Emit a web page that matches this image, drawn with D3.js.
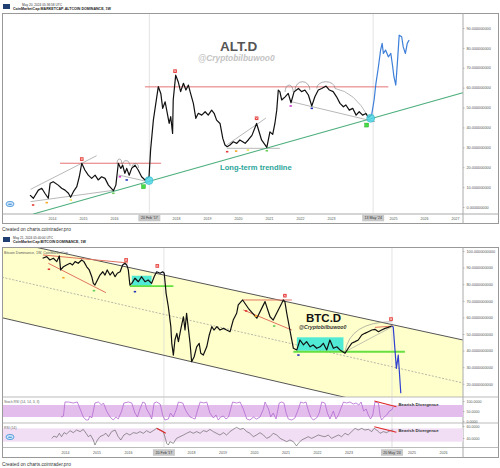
<!DOCTYPE html>
<html>
<head>
<meta charset="utf-8">
<script src="https://cdn.jsdelivr.net/npm/d3@7"></script>
<style>
  body { margin: 0; background: #fff; }
  svg { display: block; font-family: "Liberation Sans", Arial, sans-serif; }
</style>
</head>
<body>
<svg id="chart" width="500" height="468"></svg>
<script>
// ---------- data: [decimal year, value %] ----------
const altLine = [
  [2013.29,6.0],[2013.40,4.4],[2013.56,8.5],[2013.67,9.4],[2013.77,6.9],[2013.88,4.4],[2013.94,11.9],
  [2014.04,12.7],[2014.20,11.0],[2014.31,9.4],[2014.42,8.5],[2014.53,6.9],[2014.60,4.9],[2014.69,7.7],
  [2014.80,10.2],[2014.88,15.2],[2014.96,22.0],[2015.06,18.6],[2015.17,16.0],[2015.28,14.4],[2015.39,16.0],
  [2015.49,13.6],[2015.60,15.2],[2015.71,14.4],[2015.82,11.0],[2015.98,8.2],[2016.06,11.0],[2016.14,22.0],
  [2016.22,19.4],[2016.28,21.0],[2016.35,16.9],[2016.41,19.4],[2016.49,16.0],[2016.57,19.4],[2016.68,21.0],
  [2016.78,18.6],[2016.89,15.2],[2017.00,13.6],[2017.07,14.4],[2017.13,15.2],[2017.18,28.6],[2017.27,43.7],
  [2017.38,55.4],[2017.43,60.5],[2017.51,57.1],[2017.57,49.6],[2017.65,52.9],[2017.70,48.7],[2017.78,42.0],
  [2017.83,45.4],[2017.89,37.0],[2017.91,53.8],[2017.99,66.3],[2018.07,63.0],[2018.15,58.0],[2018.24,62.2],
  [2018.32,58.8],[2018.40,61.3],[2018.47,57.1],[2018.56,52.1],[2018.64,44.6],[2018.72,47.1],[2018.83,46.2],
  [2018.94,47.9],[2019.04,46.2],[2019.15,48.7],[2019.23,47.1],[2019.31,43.7],[2019.42,42.0],[2019.51,34.5],
  [2019.58,31.2],[2019.65,30.3],[2019.74,31.2],[2019.85,32.8],[2019.96,32.0],[2020.06,33.7],[2020.23,32.0],
  [2020.33,33.7],[2020.45,36.0],[2020.60,42.0],[2020.76,33.7],[2020.93,30.0],[2021.03,37.8],[2021.12,36.5],
  [2021.19,42.0],[2021.25,48.7],[2021.30,58.8],[2021.35,58.0],[2021.41,53.8],[2021.52,55.4],[2021.62,57.1],
  [2021.71,52.4],[2021.81,58.0],[2021.95,59.6],[2022.05,58.0],[2022.16,58.8],[2022.27,56.3],[2022.38,50.8],
  [2022.48,55.4],[2022.59,58.8],[2022.70,59.6],[2022.84,60.8],[2022.95,58.8],[2023.07,58.0],[2023.18,55.4],
  [2023.29,52.1],[2023.40,50.4],[2023.48,51.3],[2023.59,48.7],[2023.70,49.6],[2023.81,46.2],[2023.91,47.9],
  [2024.02,46.2],[2024.13,47.0],[2024.20,45.0],[2024.31,46.2]
];
const altProjection = [
  [2024.31,46.2],[2024.39,53.8],[2024.45,62.2],[2024.53,70.5],[2024.60,78.9],[2024.65,82.3],[2024.69,77.2],
  [2024.76,78.9],[2024.85,75.5],[2024.93,77.2],[2024.99,70.5],[2025.03,65.5],[2025.09,61.3],[2025.14,72.2],
  [2025.20,86.4],[2025.28,85.6],[2025.33,80.5],[2025.40,77.2],[2025.46,82.3],[2025.52,83.9]
];
const btcLine = [
  [2013.29,95.6],[2013.42,96.6],[2013.52,94.6],[2013.63,95.6],[2013.74,93.6],[2013.82,97.0],[2013.86,88.6],
  [2013.95,90.5],[2014.05,91.6],[2014.16,92.6],[2014.24,91.6],[2014.32,93.6],[2014.42,92.6],[2014.53,94.6],
  [2014.60,93.6],[2014.69,90.5],[2014.77,88.6],[2014.85,84.5],[2014.90,80.5],[2014.95,79.5],[2015.03,82.5],
  [2015.11,85.5],[2015.20,87.5],[2015.27,85.5],[2015.34,88.6],[2015.43,85.5],[2015.51,87.5],[2015.59,84.5],
  [2015.66,86.6],[2015.75,87.5],[2015.83,91.6],[2015.90,92.6],[2015.96,91.6],[2016.01,88.6],[2016.06,79.5],
  [2016.12,80.5],[2016.22,83.6],[2016.33,81.5],[2016.43,84.5],[2016.54,81.5],[2016.64,82.5],[2016.75,80.5],
  [2016.83,84.5],[2016.91,87.5],[2017.02,86.6],[2017.10,87.5],[2017.15,86.6],[2017.21,74.5],[2017.28,66.4],
  [2017.36,54.4],[2017.39,44.4],[2017.44,37.3],[2017.49,46.4],[2017.55,50.4],[2017.60,45.4],[2017.67,52.4],
  [2017.76,60.4],[2017.81,52.4],[2017.86,62.5],[2017.91,54.4],[2017.97,44.4],[2018.02,33.3],[2018.10,36.3],
  [2018.18,42.3],[2018.26,44.4],[2018.31,38.4],[2018.39,37.3],[2018.50,42.3],[2018.58,49.4],[2018.66,54.4],
  [2018.73,52.4],[2018.82,54.4],[2018.92,52.4],[2019.03,53.4],[2019.13,52.4],[2019.24,51.4],[2019.34,58.4],
  [2019.45,62.5],[2019.50,67.5],[2019.64,70.5],[2019.71,68.5],[2019.82,65.5],[2020.09,59.5],[2020.35,69.5],
  [2020.51,60.4],[2020.61,58.4],[2020.88,68.5],[2020.93,70.5],[2020.98,69.5],[2021.04,62.5],[2021.14,52.4],
  [2021.25,41.4],[2021.36,40.4],[2021.46,46.4],[2021.57,43.4],[2021.67,45.4],[2021.78,42.3],[2021.88,43.4],
  [2021.99,41.4],[2022.10,42.3],[2022.20,44.4],[2022.31,40.4],[2022.41,46.4],[2022.52,41.4],[2022.63,42.3],
  [2022.73,40.4],[2022.89,38.4],[2022.99,41.4],[2023.10,44.4],[2023.21,45.4],[2023.31,46.4],[2023.42,49.4],
  [2023.52,50.4],[2023.63,51.4],[2023.74,52.4],[2023.84,52.8],[2023.95,51.4],[2024.05,52.4],[2024.16,53.4],
  [2024.26,54.0],[2024.37,54.8]
];
const btcProjection = [[2024.37,54.8],[2024.42,54.2],[2024.52,29.3],[2024.58,37.3],[2024.66,14.3]];

const stochRsi = [
  [2013.87,20],[2013.95,25],[2014.00,95],[2014.11,95],[2014.26,90],[2014.39,95],[2014.48,60],[2014.58,20],
  [2014.67,5],[2014.74,5],[2014.79,25],[2014.85,15],[2014.90,50],[2014.95,90],[2015.06,95],[2015.16,80],
  [2015.22,90],[2015.32,50],[2015.43,20],[2015.53,5],[2015.62,20],[2015.69,10],[2015.80,50],[2015.87,90],
  [2016.01,95],[2016.12,90],[2016.22,40],[2016.30,20],[2016.38,60],[2016.47,95],[2016.54,90],[2016.59,60],
  [2016.70,30],[2016.75,10],[2016.83,90],[2016.91,95],[2017.02,85],[2017.10,30],[2017.17,5],[2017.28,10],
  [2017.35,40],[2017.44,20],[2017.54,60],[2017.60,95],[2017.74,90],[2017.81,60],[2017.88,40],[2017.97,20],
  [2018.05,15],[2018.13,10],[2018.21,55],[2018.29,95],[2018.41,90],[2018.50,95],[2018.60,40],[2018.71,15],
  [2018.79,30],[2018.87,5],[2018.94,20],[2019.03,25],[2019.11,10],[2019.19,20],[2019.26,60],[2019.32,95],
  [2019.45,90],[2019.56,95],[2019.66,60],[2019.77,10],[2019.87,5],[2019.98,20],[2020.08,10],[2020.19,20],
  [2020.30,60],[2020.35,95],[2020.46,60],[2020.53,20],[2020.61,40],[2020.70,10],[2020.80,90],[2020.88,95],
  [2020.95,90],[2021.02,40],[2021.09,10],[2021.20,5],[2021.30,15],[2021.41,60],[2021.48,95],[2021.57,90],
  [2021.65,95],[2021.73,50],[2021.80,20],[2021.88,5],[2021.99,15],[2022.07,40],[2022.15,95],[2022.25,90],
  [2022.33,40],[2022.41,10],[2022.52,50],[2022.60,10],[2022.68,30],[2022.75,60],[2022.84,95],[2022.94,90],
  [2023.05,95],[2023.15,85],[2023.24,90],[2023.33,80],[2023.40,95],[2023.48,50],[2023.56,60],[2023.63,30],
  [2023.70,10],[2023.77,30],[2023.84,95],[2023.95,90],[2024.00,30],[2024.05,5],[2024.13,20],[2024.21,30],
  [2024.30,50],[2024.37,55],[2024.42,70]
];
const rsi = [
  [2013.58,39.4],[2013.65,43.3],[2013.74,41.1],[2013.82,47.8],[2013.89,42.2],[2013.97,48.9],[2014.05,46.7],
  [2014.16,52.2],[2014.26,48.9],[2014.37,53.3],[2014.48,50.6],[2014.58,54.4],[2014.67,47.8],[2014.74,42.2],
  [2014.81,45.0],[2014.90,36.7],[2014.95,28.3],[2015.03,36.7],[2015.11,42.2],[2015.22,45.0],[2015.30,47.8],
  [2015.38,42.2],[2015.48,50.6],[2015.59,53.3],[2015.69,42.2],[2015.77,36.7],[2015.87,45.0],[2015.96,47.8],
  [2016.06,45.0],[2016.17,48.9],[2016.28,47.8],[2016.38,50.6],[2016.49,47.8],[2016.59,52.2],[2016.70,48.9],
  [2016.80,52.2],[2016.91,56.1],[2017.02,53.3],[2017.12,50.6],[2017.17,42.2],[2017.23,31.1],[2017.28,28.3],
  [2017.33,33.9],[2017.44,31.1],[2017.54,39.4],[2017.65,42.2],[2017.76,45.0],[2017.86,47.8],[2017.97,50.6],
  [2018.07,47.8],[2018.18,50.6],[2018.29,47.8],[2018.39,52.2],[2018.50,50.6],[2018.60,54.4],[2018.71,50.6],
  [2018.81,47.8],[2018.92,45.0],[2019.03,48.9],[2019.13,45.0],[2019.24,50.6],[2019.34,54.4],[2019.45,57.8],
  [2019.56,54.4],[2019.66,56.1],[2019.77,50.6],[2019.87,47.8],[2019.98,42.2],[2020.08,45.0],[2020.19,48.9],
  [2020.30,45.0],[2020.40,39.4],[2020.51,42.2],[2020.61,47.8],[2020.72,45.0],[2020.83,39.4],[2020.93,36.7],
  [2021.04,33.9],[2021.14,36.7],[2021.25,33.9],[2021.35,26.7],[2021.41,31.1],[2021.51,36.7],[2021.62,39.4],
  [2021.72,42.2],[2021.83,39.4],[2021.94,42.2],[2022.04,45.0],[2022.15,43.3],[2022.25,42.2],[2022.36,45.0],
  [2022.46,39.4],[2022.57,42.2],[2022.68,45.0],[2022.78,42.2],[2022.89,47.8],[2022.99,45.0],[2023.10,50.6],
  [2023.21,56.1],[2023.31,53.3],[2023.42,56.1],[2023.52,53.3],[2023.63,54.4],[2023.74,50.6],[2023.81,56.1],
  [2023.90,53.3],[2024.00,47.8],[2024.11,50.6],[2024.21,48.9],[2024.32,52.2],[2024.42,53.3]
];

// tick labels
const topYears = [2014, 2015, 2016, 2018, 2019, 2020, 2021, 2022, 2023, 2025, 2026, 2027];
const botYears = [2014, 2015, 2016, 2018, 2019, 2020, 2021, 2022, 2023, 2025, 2026];
const topValueTicks = [0, 10, 20, 30, 40, 50, 60, 70, 80, 90];
const botValueTicks = [20, 30, 40, 50, 60, 70, 80, 90, 100];
const stochTicks = [0, 50, 100];
const rsiTicks = [40, 60];
const topDateMarks = [[2017.14, "20 Feb '17"], [2024.36, "13 May '24"]];
const botDateMarks = [[2017.14, "20 Feb '17"], [2024.38, "20 May '24"]];

// drawings on the ALT.D chart
const altResistance = [[[2014.26, 22], [2017.52, 22]], [[2017.0, 60.4], [2024.85, 60.4]]];
const altTrend = [[2013.4, -3.5], [2027.25, 57.4]];
const altGreyLines = [
  [[2013.31, 8.9], [2015.44, 25.8]], [[2013.31, 2.7], [2016.03, 8.5]], [[2016.14, 16.1], [2017.11, 12.7]],
  [[2019.64, 31.2], [2020.90, 44.7]], [[2019.64, 29.5], [2021.35, 29.5]], [[2021.73, 52.9], [2024.42, 42.9]]
];
const altArcs = [ // [start, end, base, top]
  [2016.10, 2016.25, 21.6, 24.1], [2016.26, 2016.52, 20.6, 23.3], [2016.58, 2016.79, 19.6, 21.9],
  [2021.52, 2021.78, 57.9, 61.3], [2021.84, 2022.32, 58.8, 63.0], [2022.54, 2023.13, 59.6, 63.0]
];
const altCurve = [[2023.13, 59.6], [2023.77, 57.8], [2024.20, 45.4]];
const altDots = [
  [2013.39, 1.0, "#e53935"], [2013.83, 2.2, "#f5a623"], [2014.61, 3.5, "#f3e25a"], [2015.98, 6.9, "#66cc55"],
  [2016.19, 15.2, "#d040d0"], [2016.41, 13.6, "#2233bb"], [2019.65, 27.8, "#e53935"], [2019.94, 28.1, "#f5a623"],
  [2020.32, 28.6, "#f3e25a"], [2020.93, 28.3, "#66cc55"], [2021.70, 50.8, "#d040d0"], [2022.38, 49.6, "#2233bb"]
];
const altCrosses = [[2014.96, 24.1], [2017.97, 68.3], [2020.60, 44.6]];
const altSquares = [[2016.95, 10.2], [2024.15, 41.2]];
const altTouches = [[2017.13, 13.3], [2024.28, 44.6]];

// drawings on the BTC.D chart
const channelUpper = [[2012.0, 106.7], [2026.63, 46.4]];
const channelLower = [[2012.0, 59.8], [2026.63, -4.6]];
const channelMid = [[2012.0, 84.2], [2026.63, 20.5]];
const btcRedLines = [
  [[2013.30, 97.6], [2016.0, 92.8]], [[2013.47, 92.6], [2015.30, 74.9]],
  [[2019.66, 70.5], [2021.20, 70.5]], [[2019.66, 64.5], [2021.20, 52.4]], [[2023.84, 54.0], [2024.42, 54.8]]
];
const btcBoxes = [[2016.12, 2016.75, 78.9, 85.1], [2021.36, 2022.84, 39.9, 48.0]];
const btcSupport = [[[2016.06, 78.9], [2017.44, 78.9]], [[2021.25, 39.3], [2024.79, 39.3]]];
const btcGreyLine = [[2022.89, 39.3], [2024.37, 54.2]];
const btcCurve = [[2022.89, 39.3], [2023.05, 57.2], [2024.37, 57.4]];
const btcDots = [
  [2013.49, 89.0, "#e53935"], [2013.95, 83.9, "#f5a623"], [2014.92, 76.1, "#66cc55"], [2016.22, 75.5, "#2233bb"],
  [2019.75, 63.9, "#e53935"], [2020.06, 60.8, "#f5a623"], [2020.64, 54.8, "#66cc55"], [2021.41, 37.3, "#2233bb"]
];
const btcCrosses = [[2015.94, 94.6], [2016.93, 91.0], [2020.98, 73.1], [2024.35, 59.0]];
const stochDivergence = [[2023.82, 100], [2024.52, 71]];
const rsiDivergences = [[[2023.82, 58.8], [2024.52, 49.5]], [[2016.91, 56.1], [2017.20, 47.8]]];

// ---------- scales ----------
const svg = d3.select("#chart");
const xTop = d3.scaleLinear().domain([2014, 2025]).range([52, 393]);
const yTop = d3.scaleLinear().domain([0, 90]).range([207, 28]);
const xBot = d3.scaleLinear().domain([2014, 2026]).range([65, 443]);
const yBot = d3.scaleLinear().domain([20, 100]).range([383.8, 251]);
const yStoch = d3.scaleLinear().domain([0, 100]).range([421, 401]);
const yRsi = d3.scaleLinear().domain([40, 60]).range([438, 426]);

const lineFor = (x, y) => d3.line().x(d => x(d[0])).y(d => y(d[1]));

function clip(id, x, y, w, h) {
  svg.append("clipPath").attr("id", id).append("rect")
    .attr("x", x).attr("y", y).attr("width", w).attr("height", h);
  return svg.append("g").attr("clip-path", `url(#${id})`);
}

function segs(g, x, y, list, stroke, width, dash) {
  g.selectAll(null).data(list).enter().append("path")
    .attr("d", d => lineFor(x, y)(d))
    .attr("fill", "none").attr("stroke", stroke).attr("stroke-width", width)
    .attr("stroke-dasharray", dash || null);
}

function crosses(g, x, y, list) {
  const c = g.selectAll(null).data(list).enter().append("g")
    .attr("transform", d => `translate(${x(d[0])},${y(d[1])})`);
  c.append("rect").attr("x", -1.8).attr("y", -1.8).attr("width", 3.6).attr("height", 3.6).attr("fill", "#e53935");
  c.append("path").attr("d", "M-1,-1L1,1M1,-1L-1,1").attr("stroke", "#fff").attr("stroke-width", 0.6);
}

function dots(g, x, y, list) {
  g.selectAll(null).data(list).enter().append("rect")
    .attr("x", d => x(d[0]) - 1.2).attr("y", d => y(d[1]) - 0.8)
    .attr("width", 2.4).attr("height", 1.6).attr("fill", d => d[2]);
}

function header(y, dateX, date, title) {
  svg.append("rect").attr("x", 3).attr("y", y + 1).attr("width", 7).attr("height", 5).attr("fill", "#1f3f73");
  svg.append("text").attr("x", dateX).attr("y", y + 2.5).attr("font-size", 3.2).attr("fill", "#333").text(date);
  svg.append("text").attr("x", 13).attr("y", y + 7).attr("font-size", 3.6).attr("font-weight", "bold")
    .attr("fill", "#222").text(title);
}

function cloud(x, y) {
  svg.append("ellipse").attr("cx", x).attr("cy", y).attr("rx", 4).attr("ry", 2.6)
    .attr("fill", "#cfe6fa").attr("stroke", "#3d8fd6").attr("stroke-width", 0.8);
  svg.append("path").attr("d", `M${x - 2},${y + 0.8}q1,-2.2 2.2,-0.8q1,-1.2 1.8,0.8z`).attr("fill", "#3d8fd6");
}

function styleAxis(g, size) {
  g.select(".domain").remove();
  g.selectAll(".tick line").attr("stroke", "#888").attr("stroke-width", 0.5);
  g.selectAll("text").attr("font-size", size).attr("fill", "#555")
    .attr("font-family", "'Liberation Sans', Arial, sans-serif");
}

function dateMarks(x, y, list) {
  const m = svg.selectAll(null).data(list).enter().append("g");
  m.append("rect").attr("x", d => x(d[0]) - 11).attr("y", y - 3.3).attr("width", 22).attr("height", 6.6)
    .attr("fill", "#c9c9c9");
  m.append("text").attr("x", d => x(d[0])).attr("y", y + 1.3).attr("text-anchor", "middle")
    .attr("font-size", 3.6).attr("fill", "#333").text(d => d[1]);
}

// ================= ALT.D chart =================
header(3, 22, "May 20, 2024 05:36:58 UTC", "CoinMarketCap:MARKETCAP-ALTCOIN DOMINANCE, 1W");
svg.append("rect").attr("x", 2.5).attr("y", 13.5).attr("width", 496).attr("height", 210)
  .attr("fill", "#fff").attr("stroke", "#999").attr("stroke-width", 1);
svg.append("line").attr("x1", 463).attr("x2", 463).attr("y1", 13.5).attr("y2", 223.5).attr("stroke", "#aaa");
svg.append("line").attr("x1", 2.5).attr("x2", 498.5).attr("y1", 214).attr("y2", 214).attr("stroke", "#aaa");

const gTop = clip("clipTop", 3, 14, 460, 200);
gTop.selectAll(null).data(topDateMarks).enter().append("line")
  .attr("x1", d => xTop(d[0])).attr("x2", d => xTop(d[0])).attr("y1", 14).attr("y2", 214)
  .attr("stroke", "#d8d8d8").attr("stroke-width", 0.7);

segs(gTop, xTop, yTop, altResistance, "#e57373", 1);
segs(gTop, xTop, yTop, altGreyLines, "#9a9a9a", 0.7);
segs(gTop, xTop, yTop, [altTrend], "#4cae7c", 1.1);
gTop.selectAll(null).data(altArcs).enter().append("path")
  .attr("d", d => {
    const x0 = xTop(d[0]), x1 = xTop(d[1]), yb = yTop(d[2]), yt = yTop(d[3]);
    return `M${x0},${yb}A${(x1 - x0) / 2},${yb - yt} 0 0 1 ${x1},${yb}`;
  })
  .attr("fill", "none").attr("stroke", "#777").attr("stroke-width", 0.6);
gTop.append("path")
  .attr("d", `M${xTop(altCurve[0][0])},${yTop(altCurve[0][1])}Q${xTop(altCurve[1][0])},${yTop(altCurve[1][1])} ${xTop(altCurve[2][0])},${yTop(altCurve[2][1])}`)
  .attr("fill", "none").attr("stroke", "#888").attr("stroke-width", 0.6);

gTop.append("path").attr("d", lineFor(xTop, yTop)(altLine))
  .attr("fill", "none").attr("stroke", "#111").attr("stroke-width", 1.2).attr("stroke-linejoin", "round");
gTop.append("path").attr("d", lineFor(xTop, yTop)(altProjection))
  .attr("fill", "none").attr("stroke", "#3d7fd9").attr("stroke-width", 1.2).attr("stroke-linejoin", "round");

dots(gTop, xTop, yTop, altDots);
crosses(gTop, xTop, yTop, altCrosses);
gTop.selectAll(null).data(altSquares).enter().append("rect")
  .attr("x", d => xTop(d[0]) - 2).attr("y", d => yTop(d[1]) - 2).attr("width", 4).attr("height", 4)
  .attr("fill", "#44dd44").attr("stroke", "#2a9d2a").attr("stroke-width", 0.4);
gTop.selectAll(null).data(altTouches).enter().append("circle")
  .attr("cx", d => xTop(d[0])).attr("cy", d => yTop(d[1])).attr("r", 4)
  .attr("fill", "#4fd6e6").attr("fill-opacity", 0.85).attr("stroke", "#2aaac0").attr("stroke-width", 0.5);

svg.append("text").attr("x", 220).attr("y", 51).attr("font-size", 13.5).attr("font-weight", "bold")
  .attr("fill", "#555").text("ALT.D");
svg.append("text").attr("x", 198).attr("y", 61).attr("font-size", 8.4).attr("font-weight", "bold")
  .attr("font-style", "italic").attr("fill", "#c4c4c4").text("@Cryptobilbuwoo0");
svg.append("text").attr("x", 220).attr("y", 169.5).attr("font-size", 7.6).attr("font-weight", "bold")
  .attr("fill", "#2aa59a").text("Long-term trendline");
cloud(10, 204);

svg.append("g").attr("transform", "translate(0,219)")
  .call(d3.axisBottom(xTop).tickValues(topYears).tickFormat(d3.format("d")).tickSize(0).tickPadding(0))
  .call(g => styleAxis(g, 3.6))
  .selectAll("text").attr("y", 0).attr("dy", "0.35em");
svg.append("g").attr("transform", "translate(463,0)")
  .call(d3.axisRight(yTop).tickValues(topValueTicks).tickFormat(d => d.toFixed(9)).tickSize(1.5).tickPadding(2))
  .call(g => styleAxis(g, 3.8));
dateMarks(xTop, 218, topDateMarks);
svg.append("text").attr("x", 2).attr("y", 230.5).attr("font-size", 4.8).attr("fill", "#333")
  .text("Created on charts.cointrader.pro");

// ================= BTC.D chart =================
header(236, 13, "May 21, 2024 05:40:00 UTC", "CoinMarketCap:BITCOIN DOMINANCE, 1W");
svg.append("rect").attr("x", 2.5).attr("y", 247.5).attr("width", 496).attr("height", 210)
  .attr("fill", "#fff").attr("stroke", "#999").attr("stroke-width", 1);

const gBot = clip("clipBot", 3, 248, 460, 149);
const band = channelUpper.concat(channelLower.slice().reverse());
gBot.append("path").attr("d", lineFor(xBot, yBot)(band) + "Z").attr("fill", "#ffffcc");
gBot.selectAll(null).data(botDateMarks).enter().append("line")
  .attr("x1", d => xBot(d[0])).attr("x2", d => xBot(d[0])).attr("y1", 248).attr("y2", 448)
  .attr("stroke", "#d8d8d8").attr("stroke-width", 0.7);
segs(gBot, xBot, yBot, [channelUpper, channelLower], "#555", 1);
segs(gBot, xBot, yBot, [channelMid], "#999", 0.7, "2,1.5");

gBot.selectAll(null).data(btcBoxes).enter().append("rect")
  .attr("x", d => xBot(d[0])).attr("width", d => xBot(d[1]) - xBot(d[0]))
  .attr("y", d => yBot(d[3])).attr("height", d => yBot(d[2]) - yBot(d[3]))
  .attr("fill", "#33e6d6").attr("fill-opacity", 0.85);
segs(gBot, xBot, yBot, btcSupport, "#66e040", 1.8);
segs(gBot, xBot, yBot, btcRedLines, "#e2735f", 1);
segs(gBot, xBot, yBot, [btcGreyLine], "#999", 0.6);
gBot.append("path")
  .attr("d", `M${xBot(btcCurve[0][0])},${yBot(btcCurve[0][1])}Q${xBot(btcCurve[1][0])},${yBot(btcCurve[1][1])} ${xBot(btcCurve[2][0])},${yBot(btcCurve[2][1])}`)
  .attr("fill", "none").attr("stroke", "#888").attr("stroke-width", 0.6);

gBot.append("path").attr("d", lineFor(xBot, yBot)(btcLine))
  .attr("fill", "none").attr("stroke", "#111").attr("stroke-width", 1.2).attr("stroke-linejoin", "round");
gBot.append("path").attr("d", lineFor(xBot, yBot)(btcProjection))
  .attr("fill", "none").attr("stroke", "#2f3fcf").attr("stroke-width", 1.2).attr("stroke-linejoin", "round");
dots(gBot, xBot, yBot, btcDots);
crosses(gBot, xBot, yBot, btcCrosses);

svg.append("text").attr("x", 4).attr("y", 253.5).attr("font-size", 3.6).attr("fill", "#555")
  .text("Bitcoin Dominance, 1W, CoinMarketCap");
svg.append("text").attr("x", 306).attr("y", 321.5).attr("font-size", 11.5).attr("font-weight", "bold")
  .attr("fill", "#111").text("BTC.D");
svg.append("text").attr("x", 299).attr("y", 329).attr("font-size", 5.2).attr("font-weight", "bold")
  .attr("font-style", "italic").attr("fill", "#333").text("@Cryptobilbuwoo0");

// panels
[397, 423, 447.5].forEach(y => svg.append("line").attr("x1", 2.5).attr("x2", 498.5)
  .attr("y1", y).attr("y2", y).attr("stroke", "#aaa").attr("stroke-width", 0.8));
svg.append("line").attr("x1", 463).attr("x2", 463).attr("y1", 247.5).attr("y2", 457.5).attr("stroke", "#aaa");

const gStoch = clip("clipStoch", 3, 397.5, 460, 25.5);
gStoch.append("rect").attr("x", 3).attr("width", 460).attr("y", yStoch(80)).attr("height", yStoch(20) - yStoch(80))
  .attr("fill", "#e3bdec");
gStoch.selectAll(null).data(botDateMarks).enter().append("line")
  .attr("x1", d => xBot(d[0])).attr("x2", d => xBot(d[0])).attr("y1", 397).attr("y2", 423)
  .attr("stroke", "#d0d0d0").attr("stroke-width", 0.7);
gStoch.append("path").attr("d", lineFor(xBot, yStoch)(stochRsi))
  .attr("fill", "none").attr("stroke", "#b36ad0").attr("stroke-width", 0.8);
segs(gStoch, xBot, yStoch, [stochDivergence], "#e02828", 1.1);

const gRsi = clip("clipRsi", 3, 423.5, 460, 24);
gRsi.append("rect").attr("x", 3).attr("width", 460).attr("y", yRsi(56)).attr("height", yRsi(34) - yRsi(56))
  .attr("fill", "#f1ddf4");
gRsi.selectAll(null).data(botDateMarks).enter().append("line")
  .attr("x1", d => xBot(d[0])).attr("x2", d => xBot(d[0])).attr("y1", 423).attr("y2", 448)
  .attr("stroke", "#d0d0d0").attr("stroke-width", 0.7);
gRsi.append("path").attr("d", lineFor(xBot, yRsi)(rsi))
  .attr("fill", "none").attr("stroke", "#555").attr("stroke-width", 0.6);
segs(gRsi, xBot, yRsi, rsiDivergences, "#e02828", 1.1);

svg.append("text").attr("x", 4).attr("y", 402.5).attr("font-size", 3.4).attr("fill", "#666")
  .text("Stoch RSI (14, 14, 3, 3)");
svg.append("text").attr("x", 4).attr("y", 428.5).attr("font-size", 3.4).attr("fill", "#666").text("RSI (14)");
svg.append("text").attr("x", 398.5).attr("y", 405.6).attr("font-size", 4.3).attr("font-weight", "bold")
  .attr("fill", "#333").text("Bearish Divergence");
svg.append("text").attr("x", 398.5).attr("y", 432.4).attr("font-size", 4.3).attr("font-weight", "bold")
  .attr("fill", "#333").text("Bearish Divergence");
cloud(10, 437);

svg.append("g").attr("transform", "translate(0,453)")
  .call(d3.axisBottom(xBot).tickValues(botYears).tickFormat(d3.format("d")).tickSize(0).tickPadding(0))
  .call(g => styleAxis(g, 3.6))
  .selectAll("text").attr("y", 0).attr("dy", "0.35em");
svg.append("g").attr("transform", "translate(463,0)")
  .call(d3.axisRight(yBot).tickValues(botValueTicks).tickFormat(d => d.toFixed(10)).tickSize(1.5).tickPadding(2))
  .call(g => styleAxis(g, 3.8));
svg.append("g").attr("transform", "translate(463,0)")
  .call(d3.axisRight(yStoch).tickValues(stochTicks).tickFormat(d => d.toFixed(4)).tickSize(1.5).tickPadding(2))
  .call(g => styleAxis(g, 3.6));
svg.append("g").attr("transform", "translate(463,0)")
  .call(d3.axisRight(yRsi).tickValues(rsiTicks).tickFormat(d => d.toFixed(4)).tickSize(1.5).tickPadding(2))
  .call(g => styleAxis(g, 3.6));
dateMarks(xBot, 452.5, botDateMarks);
svg.append("text").attr("x", 2).attr("y", 466).attr("font-size", 4.8).attr("fill", "#333")
  .text("Created on charts.cointrader.pro");
</script>
</body>
</html>
